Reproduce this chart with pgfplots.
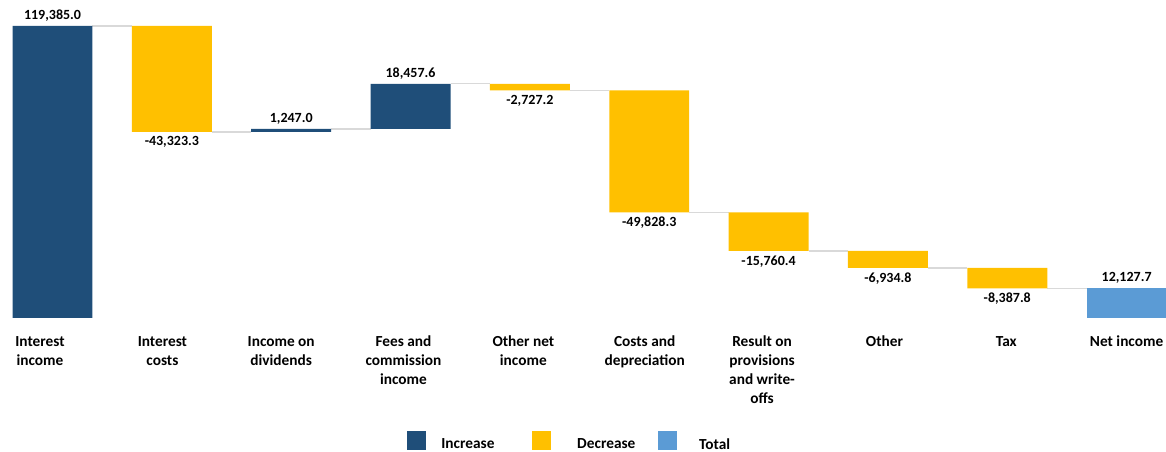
\documentclass[border=0pt]{standalone}
\usepackage{pgfplots}
\pgfplotsset{compat=1.18}
\usepackage{pgfplotstable}
\usepackage{fontspec}
\setmainfont{Carlito}
\definecolor{inc}{HTML}{1F4E79}
\definecolor{dec}{HTML}{FFC000}
\definecolor{tot}{HTML}{5B9BD5}
\definecolor{conn}{HTML}{D9D9D9}
\newcommand\lbl[2]{\makebox[0pt]{\kern#1\kern#1\begin{tabular}[t]{@{}c@{}}#2\end{tabular}}}

\pgfplotstableread{
x base inc dec tot
0 0 119385.0 0 0
1 76061.7 0 43323.3 0
2 76061.7 1247.0 0 0
3 77308.7 18457.6 0 0
4 93039.1 0 2727.2 0
5 43210.8 0 49828.3 0
6 27450.4 0 15760.4 0
7 20515.6 0 6934.8 0
8 12127.8 0 8387.8 0
9 0 0 0 12127.7
}\bars

\begin{document}
\begin{tikzpicture}
\useasboundingbox (0,-100.5pt) rectangle (874.5pt,238.5pt);
\begin{axis}[
  at={(0,0)}, anchor=south west,
  scale only axis, width=874.5pt, height=219pt,
  xmin=-0.44, xmax=9.33, ymin=0, ymax=119385,
  axis line style={draw=none}, tick style={draw=none},
  ytick=\empty,
  xtick={0,...,9},
  xticklabels={\lbl{-9.4pt}{Interest\\income},\lbl{-7.1pt}{Interest\\costs},\lbl{-7.5pt}{Income on\\dividends},\lbl{-5.3pt}{Fees and\\commission\\income},\lbl{-4.9pt}{Other net\\income},\lbl{-3.4pt}{Costs and\\depreciation},\lbl{-4.9pt}{Result on\\provisions\\and write-\\offs},\lbl{-2.6pt}{Other},\lbl{-0.75pt}{Tax},\lbl{0pt}{Net income}},
  xticklabel style={font=\fontsize{11.5}{14.3}\selectfont\bfseries, yshift=-8pt},
  bar width=0.67,
  clip=false,
  legend columns=3,
  legend style={at={(0.5103,-0.385)}, anchor=north, draw=none, inner sep=0pt,
    font=\fontsize{11.5}{14}\selectfont\bfseries,
    /tikz/every odd column/.append style={column sep=9pt}},
  nodes near coords style={font=\fontsize{10.5}{12}\selectfont\bfseries, text=black},
]
% connectors
\addplot[conn, line width=1.1pt, no marks, unbounded coords=jump, forget plot] coordinates {
(0.335,119385) (0.665,119385) (0.5,nan)
(1.335,76061.7) (1.665,76061.7) (1.5,nan)
(2.335,77308.7) (2.665,77308.7) (2.5,nan)
(3.335,95766.3) (3.665,95766.3) (3.5,nan)
(4.335,93039.1) (4.665,93039.1) (4.5,nan)
(5.335,43210.8) (5.665,43210.8) (5.5,nan)
(6.335,27450.4) (6.665,27450.4) (6.5,nan)
(7.335,20515.6) (7.665,20515.6) (7.5,nan)
(8.335,12127.8) (8.665,12127.8)
};
\addplot[ybar stacked, draw=none, fill=none, forget plot] table[x=x,y=base] {\bars};
\addplot[ybar stacked, draw=none, fill=inc, legend image code/.code={\fill[inc] (0pt,-3.75pt) rectangle (14.25pt,10.5pt);}] table[x=x,y=inc] {\bars};
\addplot[ybar stacked, draw=none, fill=dec, legend image code/.code={\fill[dec] (0pt,-3.75pt) rectangle (14.25pt,10.5pt);}] table[x=x,y=dec] {\bars};
\addplot[ybar stacked, draw=none, fill=tot, legend image code/.code={\fill[tot] (0pt,-3.75pt) rectangle (14.25pt,10.5pt);}] table[x=x,y=tot] {\bars};
\legend{\makebox[66.4pt][l]{\hspace*{0.75pt}Increase},\makebox[67.9pt][l]{\hspace*{9pt}Decrease},\makebox[66.4pt][l]{\hspace*{5.25pt}Total}}
% labels above
\addplot[stack plots=false, draw=none, mark=none, forget plot, nodes near coords, point meta=explicit symbolic, nodes near coords align={above}] coordinates {
(0,119385) [119,385.0]
(2,77308.7) [1,247.0]
(3,95766.3) [18,457.6]
(9,12127.7) [12,127.7]
};
% labels below
\addplot[stack plots=false, draw=none, mark=none, forget plot, nodes near coords, point meta=explicit symbolic, nodes near coords align={below}] coordinates {
(1,76061.7) [-43,323.3]
(4,93039.1) [-2,727.2]
(5,43210.8) [-49,828.3]
(6,27450.4) [-15,760.4]
(7,20515.6) [-6,934.8]
(8,12127.8) [-8,387.8]
};
\end{axis}
\end{tikzpicture}
\end{document}
